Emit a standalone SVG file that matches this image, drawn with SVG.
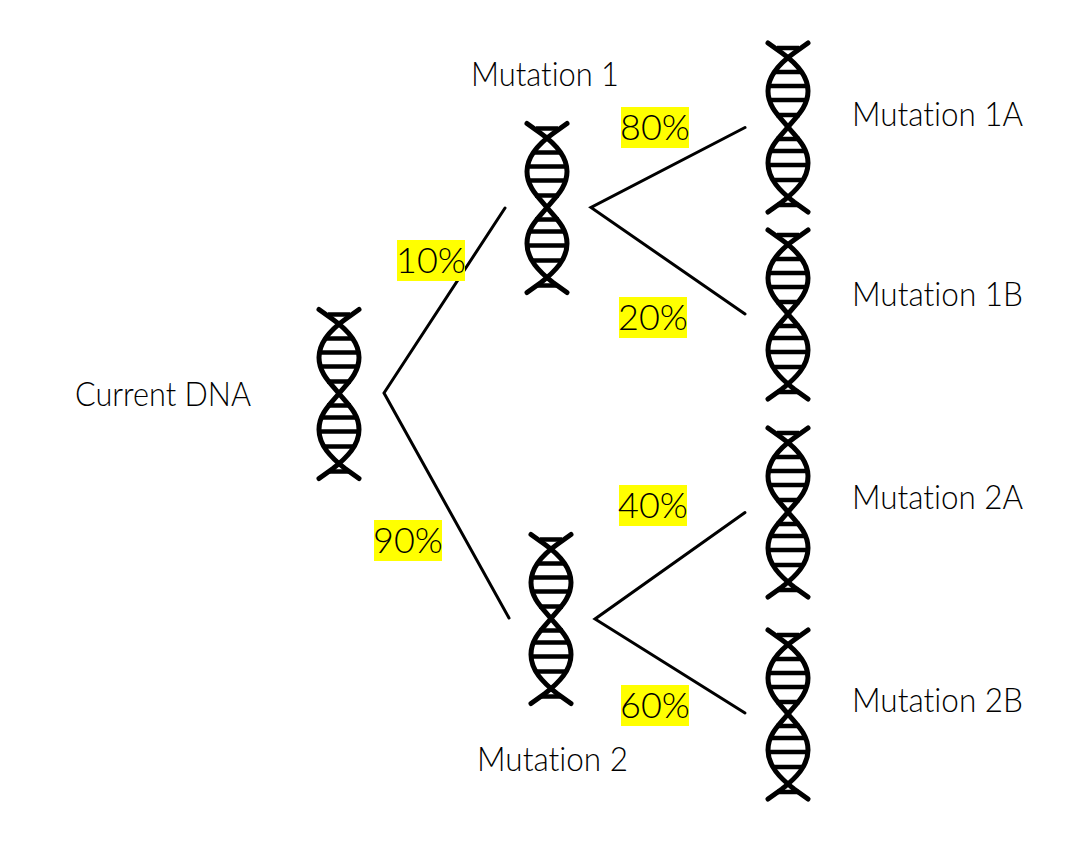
<svg xmlns="http://www.w3.org/2000/svg" width="1072" height="841" viewBox="0 0 1072 841">
<style>
.l{fill:none;stroke:#000;stroke-width:3;stroke-linecap:round;stroke-linejoin:miter}
.s{fill:none;stroke:#000;stroke-width:5;stroke-linecap:round}
.r{stroke:#000;stroke-width:4.5}
.t{font-family:"Lato","Liberation Sans",sans-serif;font-weight:300;font-size:33px;fill:#000;font-variant-ligatures:none}
.p{font-family:"Lato","Liberation Sans",sans-serif;font-weight:300;font-size:36px;fill:#000;text-anchor:middle}
.b{fill:#ffff00}
</style>
<defs>
<g id="dna">
<path class="s" d="M-20,-84 L-6,-74 C8,-64 20,-52 20,-36 C20,-20 8,-10 0,0 C-8,10 -20,20 -20,36 C-20,52 -8,64 6,75 L20,85"/>
<path class="s" d="M20,-84 L6,-74 C-8,-64 -20,-52 -20,-36 C-20,-20 -8,-10 0,0 C8,10 20,20 20,36 C20,52 8,64 -6,75 L-20,85"/>
<path class="r" d="M-11,-79H11M-14,-55H14M-19,-41H19M-18,-27H18M-12,-12H12M-12,12H12M-18,24H18M-19,38H19M-14,53H14M-11,78H11"/>
</g>
</defs>
<g id="connectors">
<path class="l" d="M505,208 L384,393 L509,618"/>
<path class="l" d="M745,127.500 L591,207.500 L745,314"/>
<path class="l" d="M745,512.500 L595,619 L745,713"/>
</g>
<g id="node-current"><use href="#dna" x="339" y="393.5"/><text class="t" x="75" y="406" textLength="176" lengthAdjust="spacingAndGlyphs">Current DNA</text></g>
<g id="node-m1"><use href="#dna" x="547" y="207.5"/><text class="t" x="471" y="86" textLength="148" lengthAdjust="spacingAndGlyphs">Mutation 1</text></g>
<g id="node-m2"><use href="#dna" x="551" y="618.5"/><text class="t" x="477" y="771" textLength="151" lengthAdjust="spacingAndGlyphs">Mutation 2</text></g>
<g id="node-m1a"><use href="#dna" x="788" y="127"/><text class="t" x="852" y="126" textLength="171" lengthAdjust="spacingAndGlyphs">Mutation 1A</text></g>
<g id="node-m1b"><use href="#dna" x="788" y="314"/><text class="t" x="852" y="306" textLength="171" lengthAdjust="spacingAndGlyphs">Mutation 1B</text></g>
<g id="node-m2a"><use href="#dna" x="788" y="512"/><text class="t" x="852" y="509" textLength="171" lengthAdjust="spacingAndGlyphs">Mutation 2A</text></g>
<g id="node-m2b"><use href="#dna" x="788" y="714"/><text class="t" x="852" y="712" textLength="171" lengthAdjust="spacingAndGlyphs">Mutation 2B</text></g>
<g id="labels">
<rect class="b" x="397" y="240" width="68" height="41"/><text class="p" x="431" y="273">10%</text>
<rect class="b" x="374" y="520" width="68" height="41"/><text class="p" x="408" y="553">90%</text>
<rect class="b" x="621" y="107" width="68" height="41"/><text class="p" x="655" y="140">80%</text>
<rect class="b" x="619" y="297" width="68" height="41"/><text class="p" x="653" y="330">20%</text>
<rect class="b" x="619" y="485" width="68" height="41"/><text class="p" x="653" y="518">40%</text>
<rect class="b" x="621" y="685" width="68" height="41"/><text class="p" x="655" y="718">60%</text>
</g>
</svg>
